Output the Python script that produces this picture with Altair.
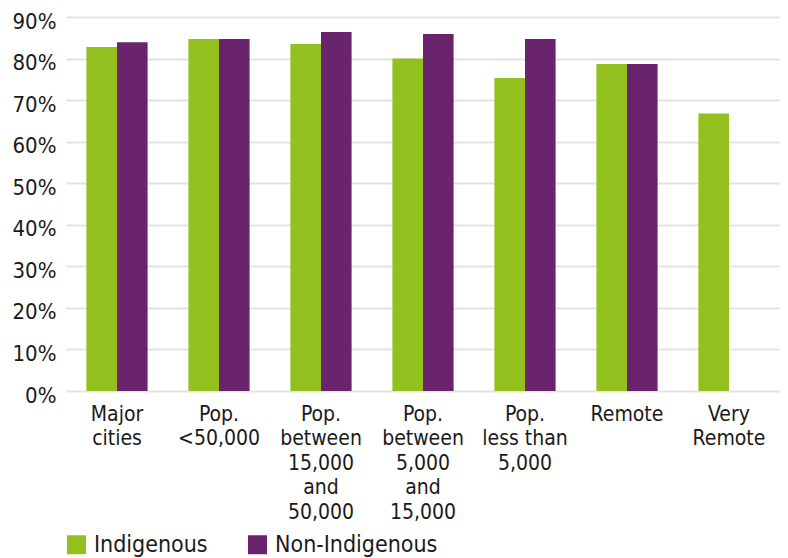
import altair as alt
import pandas as pd

categories = ["Major\ncities", "Pop.\n<50,000", "Pop.\nbetween\n15,000\nand\n50,000",
              "Pop.\nbetween\n5,000\nand\n15,000", "Pop.\nless than\n5,000", "Remote", "Very\nRemote"]
indigenous = [82.8, 84.7, 83.5, 80.0, 75.3, 78.7, 66.8]
non_indigenous = [83.9, 84.7, 86.4, 85.9, 84.7, 78.7, None]
series = ["Indigenous", "Non-Indigenous"]
colors = ["#93C01F", "#69246D"]

rows = []
for c, a, b in zip(categories, indigenous, non_indigenous):
    rows.append({"cat": c, "group": series[0], "value": a / 100})
    if b is not None:
        rows.append({"cat": c, "group": series[1], "value": b / 100})
df = pd.DataFrame(rows)

FONT = "Liberation Sans Narrow, DejaVu Sans Condensed, sans-serif"

chart = alt.Chart(df).mark_bar().encode(
    x=alt.X("cat:N", sort=categories, title=None,
            scale=alt.Scale(paddingInner=0.4, paddingOuter=0.2),
            axis=alt.Axis(labelAngle=0, labelExpr="split(datum.label, '\\n')",
                          labelFontSize=21, labelLineHeight=24.5, labelPadding=12,
                          labelBaseline="top", labelColor="#1a1a1a",
                          domain=False, ticks=False, labelFont=FONT)),
    xOffset=alt.XOffset("group:N", sort=series),
    y=alt.Y("value:Q", title=None,
            scale=alt.Scale(domain=[0, 0.9], nice=False),
            axis=alt.Axis(format=".0%", values=[i / 10 for i in range(10)],
                          labelFontSize=22, labelPadding=10, labelColor="#1a1a1a",
                          labelOffset=4,
                          labelFont=FONT, domain=False, ticks=False,
                          gridColor="#e3e3e3", gridWidth=2)),
    color=alt.Color("group:N", sort=series, title=None,
                    scale=alt.Scale(domain=series, range=colors),
                    legend=alt.Legend(orient="none", legendX=-1, legendY=516,
                                      direction="horizontal",
                                      symbolType="square",
                                      symbolSize=361, symbolStrokeWidth=0, symbolOpacity=1,
                                      labelFontSize=23, labelFont=FONT, labelColor="#1a1a1a",
                                      labelLimit=400,
                                      labelOffset=6, columnPadding=38)),
).properties(
    width=714, height=374,
    autosize=alt.AutoSizeParams(type="none"),
    padding={"left": 58, "top": 9, "right": 0, "bottom": 167},
).configure_view(stroke=None)

chart.save("out.html", embed_options={"renderer": "svg", "actions": False})
